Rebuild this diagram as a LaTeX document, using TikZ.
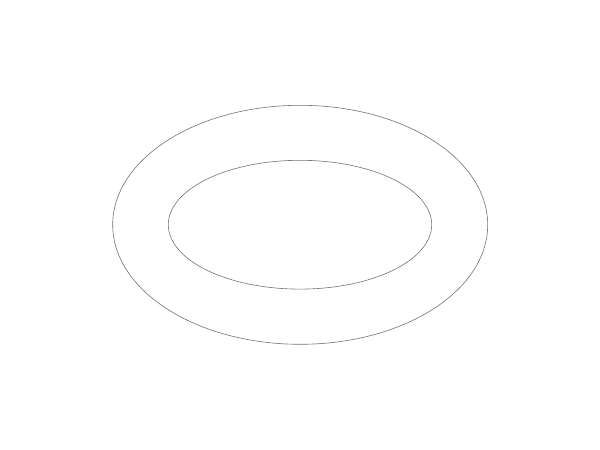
\documentclass[tikz,border=0pt]{standalone}
\begin{document}
\begin{tikzpicture}[x=1pt,y=-1pt,
  ring/.style={draw=black!55, line width=0.6pt}]
\useasboundingbox[fill=white] (0,0) rectangle (600,450);
\coordinate (c) at (300.2,224.8);
\draw[ring] (c) ellipse [x radius=187.5, y radius=119.5];
\draw[ring] (300,224.7) ellipse [x radius=131.7, y radius=64.4];
\end{tikzpicture}
\end{document}
